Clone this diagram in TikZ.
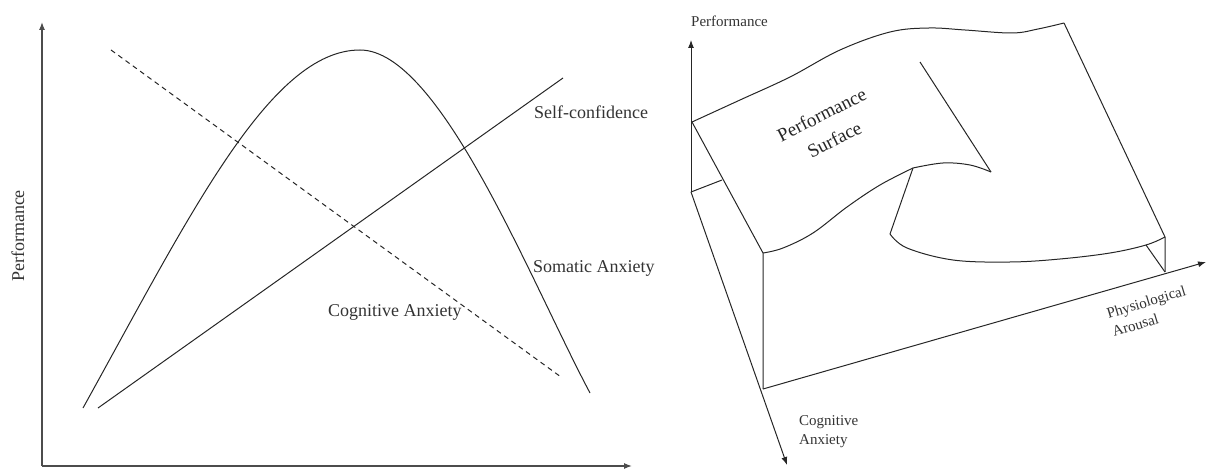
\documentclass[tikz,border=0pt]{standalone}
\usepackage{fontspec}
\setmainfont{Liberation Serif}
\usetikzlibrary{arrows.meta}
\begin{document}
\begin{tikzpicture}[x=1pt,y=-1pt,
  ln/.style={line width=1pt,draw=black!85,line join=round},
  axis/.style={ln,-{Latex[length=8pt,width=6pt]}},
  lblL/.style={font=\fontsize{18}{20}\selectfont,text=black!80,inner sep=0pt},
  lblR/.style={font=\fontsize{15}{19}\selectfont,text=black!80,inner sep=0pt}]
\useasboundingbox (0,0) rectangle (1207,470);

% ---------- left: multidimensional anxiety plot ----------
\coordinate (O) at (42,466);
\coordinate (Ytop) at (42,22);
\coordinate (Xend) at (632,466);
\draw[axis,line width=1.3pt,draw=black!70] (O) -- (Ytop);
\draw[axis,line width=1.3pt,draw=black!70] (O) -- (Xend);
\node[lblL,rotate=90] (perfL) at (18,236) {Performance};

% somatic anxiety (inverted U)
\coordinate (saA) at (83,408);
\coordinate (saPeak) at (360,50);
\coordinate (saB) at (590,393);
\draw[ln] (saA) .. controls (190,215) and (270,50) .. (saPeak)
               .. controls (440,50) and (530,280) .. (saB);
% self-confidence
\coordinate (scA) at (98,408);
\coordinate (scB) at (563,78);
\draw[ln] (scA) -- (scB);
% cognitive anxiety
\coordinate (caA) at (111,50);
\coordinate (caB) at (561,377);
\draw[ln,dash pattern=on 5pt off 4pt] (caA) -- (caB);

\node[lblL,anchor=west] (sc) at (534,112) {Self-confidence};
\node[lblL,anchor=west] (sa) at (533,268) {Somatic Anxiety};
\node[lblL,anchor=west] (ca) at (328,312) {Cognitive Anxiety};

% ---------- right: catastrophe performance surface ----------
\coordinate (o3) at (691,192);
\coordinate (pTop) at (691,40);
\coordinate (cEnd) at (787,465);
\coordinate (fl) at (763,389);
\coordinate (aEnd) at (1206,262);
\draw[axis] (o3) -- (pTop);
\draw[axis] (o3) -- (cEnd);
\draw[axis] (fl) -- (aEnd);

\coordinate (tl) at (692,122);
\coordinate (ft) at (763,253);
\coordinate (br) at (1064,23);
\coordinate (rt) at (1165,237);
\coordinate (rb) at (1165,272);
\coordinate (fold) at (920,62);
\coordinate (tip) at (991,172);
\coordinate (lip) at (913,168);
\coordinate (low) at (890,234);
\coordinate (rc) at (1146,245);

% back edge of the surface
\draw[ln] plot[smooth,tension=0.6] coordinates
  {(tl) (740,100) (790,77) (840,50) (890,32) (929,28) (965,30) (1012,33) (1038,29) (br)};
\draw[ln] (br) -- (rt) -- (rb);
\draw[ln] (rc) -- (rb);
% left side and front
\draw[ln] (tl) -- (ft) -- (fl);
\draw[ln] (o3) -- (722,180);
% upper sheet front edge
\draw[ln] plot[smooth,tension=0.6] coordinates
  {(ft) (783,248) (813,233) (847,207) (880,185) (lip)};
% fold
\draw[ln] (fold) -- (tip);
\draw[ln] plot[smooth,tension=0.6] coordinates {(tip) (970,165) (943,163) (lip)};
\draw[ln] (lip) -- (low);
% lower sheet front edge
\draw[ln] plot[smooth,tension=0.6] coordinates
  {(low) (907,248) (953,260) (1010,262) (1060,259) (1110,253) (rc) (rt)};

\node[lblR,anchor=west] (perfR) at (691,21) {Performance};
\node[font=\fontsize{19}{28}\selectfont,text=black!85,inner sep=0pt,align=center,rotate=27] (surf) at (828,127) {Performance\\Surface};
\node[lblR,align=left,rotate=17] (pa) at (1149,311) {Physiological\\Arousal};
\node[lblR,align=left,anchor=west] (cogR) at (799,432) {Cognitive\\Anxiety};
\end{tikzpicture}
\end{document}
